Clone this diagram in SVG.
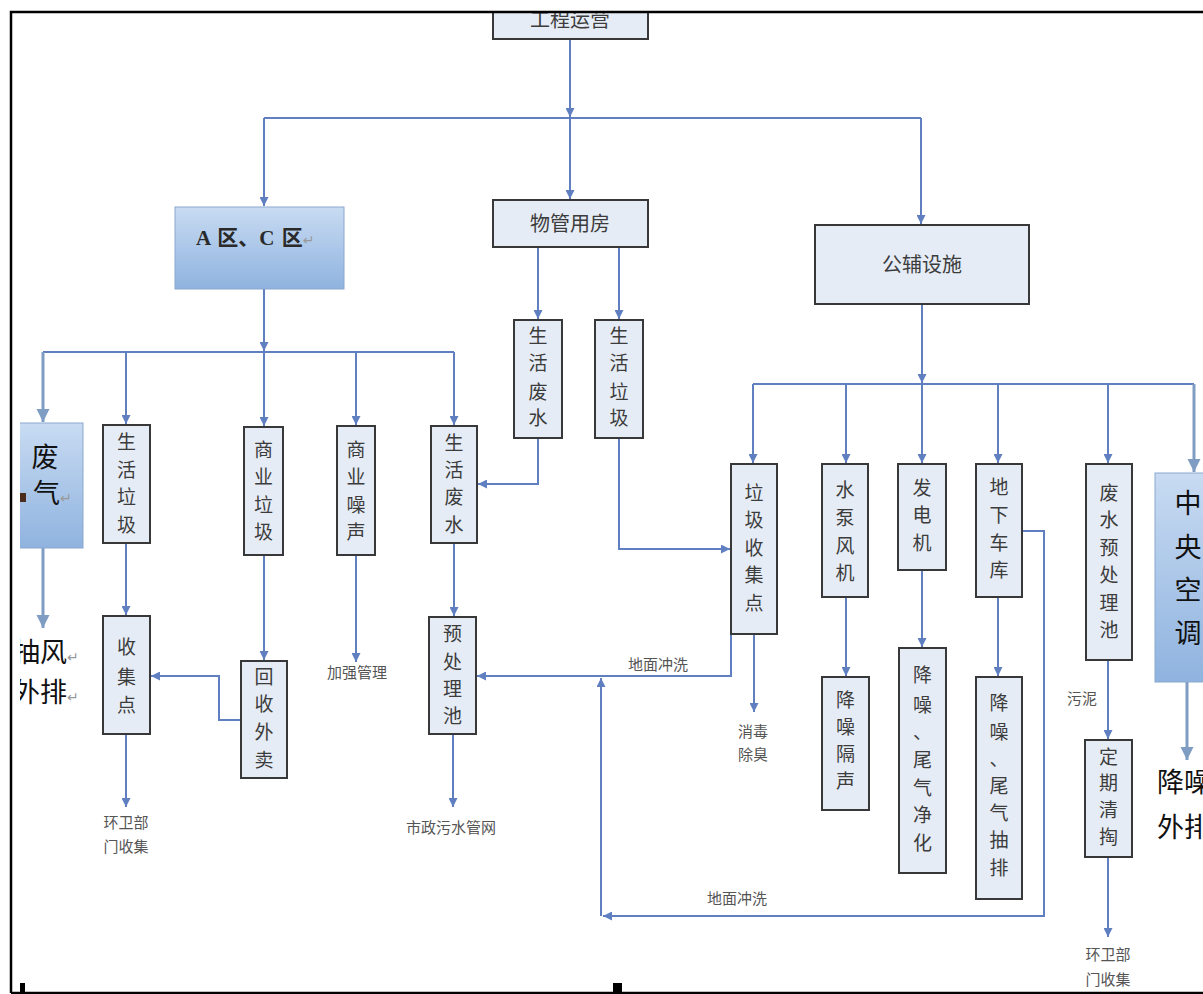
<svg xmlns="http://www.w3.org/2000/svg" width="1203" height="994" viewBox="0 0 1203 994">
<defs>
<style>
.bx{fill:#e6ecf6;stroke:#383838;stroke-width:2}
.gb{fill:url(#gblue);stroke:#8ba7cf;stroke-width:1}
.t{font-family:"Noto Sans CJK SC","Noto Sans",sans-serif;font-size:19px;fill:#3c3c3c;text-anchor:middle}
.th{font-family:"Noto Sans CJK SC","Noto Sans",sans-serif;font-size:20px;fill:#3c3c3c;text-anchor:middle}
.big{font-family:"Noto Sans CJK SC","Noto Sans",sans-serif;font-size:27px;fill:#111}
.lbl{font-family:"Noto Sans CJK SC","Noto Sans",sans-serif;font-size:15px;fill:#555;text-anchor:middle}
.ret{font-family:"DejaVu Sans",sans-serif;fill:#999}
.c{fill:none;stroke:#5f7fc0;stroke-width:2}
.cl{fill:none;stroke:#7f9dc3;stroke-width:3}
</style>
<linearGradient id="gblue" x1="0" y1="0" x2="0" y2="1">
<stop offset="0" stop-color="#c8dbf2"/>
<stop offset="1" stop-color="#8fb3df"/>
</linearGradient>
<marker id="arr" viewBox="0 0 10 10" refX="10" refY="5" markerUnits="userSpaceOnUse" markerWidth="9" markerHeight="9" orient="auto">
<path d="M0,0 L10,5 L0,10 z" fill="#5f7fc0"/>
</marker>
<marker id="arrL" viewBox="0 0 10 10" refX="10" refY="5" markerUnits="userSpaceOnUse" markerWidth="13" markerHeight="14" orient="auto">
<path d="M0,0 L10,5 L0,10 z" fill="#7f9dc3"/>
</marker>
<clipPath id="clipTop"><rect x="0" y="13" width="1203" height="981"/></clipPath>
<clipPath id="clipLeft"><rect x="20" y="0" width="1183" height="994"/></clipPath>
</defs>
<rect x="0" y="0" width="1203" height="994" fill="#fff"/>

<g id="connectors">
<path class="c" d="M570,39 V117" marker-end="url(#arr)"/>
<path class="c" d="M570,118 V199" marker-end="url(#arr)"/>
<path class="c" d="M264,118 H921"/>
<path class="c" d="M264,118 V206" marker-end="url(#arr)"/>
<path class="c" d="M921,118 V224" marker-end="url(#arr)"/>
<path class="c" d="M538,247 V319" marker-end="url(#arr)"/>
<path class="c" d="M619,247 V319" marker-end="url(#arr)"/>
<path class="c" d="M264,289 V351" marker-end="url(#arr)"/>
<path class="c" d="M43,352 H454"/>
<path class="cl" d="M43,352 V422" marker-end="url(#arrL)"/>
<path class="c" d="M126,352 V424" marker-end="url(#arr)"/>
<path class="c" d="M264,352 V426" marker-end="url(#arr)"/>
<path class="c" d="M356,352 V425" marker-end="url(#arr)"/>
<path class="c" d="M454,352 V425" marker-end="url(#arr)"/>
<path class="cl" d="M43,548 V628" marker-end="url(#arrL)"/>
<path class="c" d="M126,543 V615" marker-end="url(#arr)"/>
<path class="c" d="M126,734 V807" marker-end="url(#arr)"/>
<path class="c" d="M264,555 V660" marker-end="url(#arr)"/>
<path class="c" d="M241,720 H219 V676 H151" marker-end="url(#arr)"/>
<path class="c" d="M356,555 V662" marker-end="url(#arr)"/>
<path class="c" d="M454,543 V616" marker-end="url(#arr)"/>
<path class="c" d="M453,734 V807" marker-end="url(#arr)"/>
<path class="c" d="M538,438 V484 H478" marker-end="url(#arr)"/>
<path class="c" d="M619,438 V549 H730" marker-end="url(#arr)"/>
<path class="c" d="M922,304 V383" marker-end="url(#arr)"/>
<path class="c" d="M753,384 H1194"/>
<path class="c" d="M753,384 V463" marker-end="url(#arr)"/>
<path class="c" d="M846,384 V463" marker-end="url(#arr)"/>
<path class="c" d="M922,384 V463" marker-end="url(#arr)"/>
<path class="c" d="M998,384 V463" marker-end="url(#arr)"/>
<path class="c" d="M1108,384 V463" marker-end="url(#arr)"/>
<path class="cl" d="M1194,384 V472" marker-end="url(#arrL)"/>
<path class="c" d="M754,634 V712" marker-end="url(#arr)"/>
<path class="c" d="M731,634 V676 H477" marker-end="url(#arr)"/>
<path class="c" d="M846,597 V676" marker-end="url(#arr)"/>
<path class="c" d="M922,570 V647" marker-end="url(#arr)"/>
<path class="c" d="M998,597 V676" marker-end="url(#arr)"/>
<path class="c" d="M1022,531 H1044 V916 H603" marker-end="url(#arr)"/>
<path class="c" d="M601,916 V678" marker-end="url(#arr)"/>
<path class="c" d="M1108,660 V739" marker-end="url(#arr)"/>
<path class="c" d="M1108,857 V937" marker-end="url(#arr)"/>
<path class="cl" d="M1187,682 V760" marker-end="url(#arrL)"/>
</g>

<g id="n-gcyy" clip-path="url(#clipTop)">
<rect class="bx" x="493" y="-5" width="155" height="44"/>
<text class="th" x="570" y="27" font-size="21">工程运营</text>
</g>
<g id="n-wgyf">
<rect class="bx" x="493" y="200" width="155" height="47"/>
<text class="th" x="570" y="231">物管用房</text>
</g>
<g id="n-ac">
<rect class="gb" x="175" y="207" width="169" height="82"/>
<text x="196" y="245" font-family="Liberation Serif,'Noto Sans CJK SC',serif" font-size="21" font-weight="bold" fill="#2a2a2a" word-spacing="2">A 区、C 区<tspan class="ret" font-size="14" font-weight="normal">↵</tspan></text>
</g>
<g id="n-gfss">
<rect class="bx" x="815" y="225" width="214" height="79"/>
<text class="th" x="922" y="272">公辅设施</text>
</g>

<g id="n-feiqi" clip-path="url(#clipLeft)">
<rect class="gb" x="5" y="423" width="78" height="125"/>
<text class="big" x="45" y="467" text-anchor="middle">废</text>
<text class="big" x="33" y="503">气<tspan class="ret" font-size="14">↵</tspan></text>
<rect x="20" y="493" width="6" height="9" fill="#4a2d1c"/>
</g>
<g id="n-choufeng" clip-path="url(#clipLeft)">
<text class="big" x="13" y="662">抽风<tspan class="ret" font-size="14">↵</tspan></text>
<text class="big" x="13" y="702">外排<tspan class="ret" font-size="14">↵</tspan></text>
</g>

<g id="n-shlj">
<rect class="bx" x="103" y="425" width="47" height="118"/>
<text class="t"><tspan x="126.5" y="449">生</tspan><tspan x="126.5" y="477">活</tspan><tspan x="126.5" y="504">垃</tspan><tspan x="126.5" y="532">圾</tspan></text>
</g>
<g id="n-sjd">
<rect class="bx" x="103" y="616" width="47" height="118"/>
<text class="t"><tspan x="126.5" y="654">收</tspan><tspan x="126.5" y="684">集</tspan><tspan x="126.5" y="712">点</tspan></text>
</g>
<g id="n-sylj">
<rect class="bx" x="244" y="427" width="39" height="128"/>
<text class="t"><tspan x="263.5" y="457">商</tspan><tspan x="263.5" y="484">业</tspan><tspan x="263.5" y="512">垃</tspan><tspan x="263.5" y="539">圾</tspan></text>
</g>
<g id="n-hswm">
<rect class="bx" x="241" y="661" width="46" height="117"/>
<text class="t"><tspan x="264" y="684">回</tspan><tspan x="264" y="711">收</tspan><tspan x="264" y="739">外</tspan><tspan x="264" y="767">卖</tspan></text>
</g>
<g id="n-syzs">
<rect class="bx" x="337" y="426" width="38" height="129"/>
<text class="t"><tspan x="356" y="457">商</tspan><tspan x="356" y="484">业</tspan><tspan x="356" y="512">噪</tspan><tspan x="356" y="539">声</tspan></text>
</g>
<g id="n-shfs">
<rect class="bx" x="431" y="426" width="46" height="117"/>
<text class="t"><tspan x="454" y="450">生</tspan><tspan x="454" y="477">活</tspan><tspan x="454" y="504">废</tspan><tspan x="454" y="532">水</tspan></text>
</g>
<g id="n-yclc">
<rect class="bx" x="429" y="617" width="47" height="117"/>
<text class="t"><tspan x="452.5" y="641">预</tspan><tspan x="452.5" y="669">处</tspan><tspan x="452.5" y="696">理</tspan><tspan x="452.5" y="723">池</tspan></text>
</g>
<g id="n-shfs2">
<rect class="bx" x="514" y="320" width="48" height="118"/>
<text class="t"><tspan x="538" y="343">生</tspan><tspan x="538" y="370">活</tspan><tspan x="538" y="399">废</tspan><tspan x="538" y="425">水</tspan></text>
</g>
<g id="n-shlj2">
<rect class="bx" x="595" y="320" width="48" height="118"/>
<text class="t"><tspan x="619" y="343">生</tspan><tspan x="619" y="370">活</tspan><tspan x="619" y="399">垃</tspan><tspan x="619" y="425">圾</tspan></text>
</g>
<g id="n-ljsjd">
<rect class="bx" x="731" y="464" width="46" height="170"/>
<text class="t"><tspan x="754" y="500">垃</tspan><tspan x="754" y="527">圾</tspan><tspan x="754" y="555">收</tspan><tspan x="754" y="582">集</tspan><tspan x="754" y="610">点</tspan></text>
</g>
<g id="n-sbfj">
<rect class="bx" x="822" y="464" width="46" height="133"/>
<text class="t"><tspan x="845" y="497">水</tspan><tspan x="845" y="525">泵</tspan><tspan x="845" y="553">风</tspan><tspan x="845" y="580">机</tspan></text>
</g>
<g id="n-fdj">
<rect class="bx" x="898" y="464" width="48" height="106"/>
<text class="t"><tspan x="922" y="495">发</tspan><tspan x="922" y="522">电</tspan><tspan x="922" y="550">机</tspan></text>
</g>
<g id="n-dxck">
<rect class="bx" x="976" y="464" width="46" height="133"/>
<text class="t"><tspan x="999" y="494">地</tspan><tspan x="999" y="522">下</tspan><tspan x="999" y="550">车</tspan><tspan x="999" y="577">库</tspan></text>
</g>
<g id="n-fsyclc">
<rect class="bx" x="1086" y="464" width="46" height="196"/>
<text class="t"><tspan x="1109" y="500">废</tspan><tspan x="1109" y="527">水</tspan><tspan x="1109" y="555">预</tspan><tspan x="1109" y="582">处</tspan><tspan x="1109" y="610">理</tspan><tspan x="1109" y="637">池</tspan></text>
</g>
<g id="n-zykt">
<rect class="gb" x="1155" y="473" width="60" height="209"/>
<text class="big" text-anchor="middle"><tspan x="1188" y="513">中</tspan><tspan x="1188" y="557">央</tspan><tspan x="1188" y="600">空</tspan><tspan x="1188" y="643">调</tspan></text>
</g>
<g id="n-jzgs">
<rect class="bx" x="822" y="677" width="47" height="133"/>
<text class="t"><tspan x="845.5" y="707">降</tspan><tspan x="845.5" y="734">噪</tspan><tspan x="845.5" y="761">隔</tspan><tspan x="845.5" y="788">声</tspan></text>
</g>
<g id="n-jzwqjh">
<rect class="bx" x="899" y="648" width="47" height="225"/>
<text class="t"><tspan x="922.5" y="682">降</tspan><tspan x="922.5" y="712">噪</tspan><tspan x="922.5" y="739">、</tspan><tspan x="922.5" y="767">尾</tspan><tspan x="922.5" y="795">气</tspan><tspan x="922.5" y="822">净</tspan><tspan x="922.5" y="850">化</tspan></text>
</g>
<g id="n-jzwqcp">
<rect class="bx" x="976" y="677" width="46" height="222"/>
<text class="t"><tspan x="999" y="710">降</tspan><tspan x="999" y="739">噪</tspan><tspan x="999" y="766">、</tspan><tspan x="999" y="793">尾</tspan><tspan x="999" y="820">气</tspan><tspan x="999" y="847">抽</tspan><tspan x="999" y="875">排</tspan></text>
</g>
<g id="n-dqqt">
<rect class="bx" x="1085" y="740" width="47" height="117"/>
<text class="t"><tspan x="1108.5" y="764">定</tspan><tspan x="1108.5" y="790">期</tspan><tspan x="1108.5" y="817">清</tspan><tspan x="1108.5" y="844">掏</tspan></text>
</g>
<g id="n-jzwp">
<text class="big" x="1157" y="792">降噪</text>
<text class="big" x="1157" y="837">外排</text>
</g>

<g id="labels">
<text class="lbl" x="126" y="828">环卫部</text>
<text class="lbl" x="126" y="852">门收集</text>
<text class="lbl" x="357" y="678">加强管理</text>
<text class="lbl" x="451" y="833">市政污水管网</text>
<text class="lbl" x="658" y="670">地面冲洗</text>
<text class="lbl" x="753" y="737">消毒</text>
<text class="lbl" x="753" y="760">除臭</text>
<text class="lbl" x="737" y="904">地面冲洗</text>
<text class="lbl" x="1082" y="704">污泥</text>
<text class="lbl" x="1108" y="960">环卫部</text>
<text class="lbl" x="1108" y="985">门收集</text>
</g>

<g id="frame">
<path d="M11,993 V12 H1203 M11,993 H1203" fill="none" stroke="#000" stroke-width="2.5"/>
<rect x="20" y="983" width="5" height="10" fill="#000"/>
<rect x="613" y="983" width="9" height="10" fill="#000"/>
</g>
</svg>
